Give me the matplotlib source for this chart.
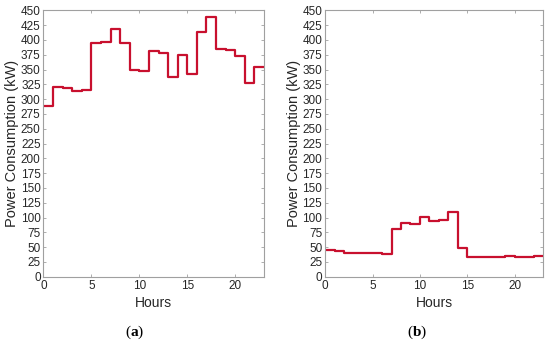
import matplotlib
matplotlib.use("Agg")
import matplotlib.pyplot as plt
import numpy as np

plt.rcParams['font.family'] = ['Liberation Sans', 'DejaVu Sans']
plt.rcParams['mathtext.fontset'] = 'custom'
plt.rcParams['mathtext.rm'] = 'Liberation Serif'
plt.rcParams['mathtext.bf'] = 'Liberation Serif:bold'

hours = list(range(24))
power_a = [288, 321, 319, 314, 316, 395, 396, 419, 395, 350, 347, 382,
           378, 338, 374, 343, 414, 438, 384, 383, 372, 328, 354, 354]
power_b = [45, 43, 41, 41, 40, 40, 39, 80, 91, 89, 101, 95,
           96, 109, 48, 33, 34, 33, 34, 35, 34, 34, 35, 35]
panel_labels = ['a', 'b']
yticks = list(range(0, 451, 25))
xticks = [0, 5, 10, 15, 20]

fig = plt.figure(figsize=(5.5, 3.43), dpi=100)
axes = [fig.add_axes([0.079, 0.193, 0.401, 0.777]),
        fig.add_axes([0.591, 0.193, 0.397, 0.777])]
label_x = [0.244, 0.758]

line_color = '#c8102e'
grey = '#a0a0a0'
text_c = '#262626'
for ax, data, lab, lx in zip(axes, [power_a, power_b], panel_labels, label_x):
    ax.step(hours, data, where='post', color=line_color, lw=1.6)
    ax.set_xlim(0, 23)
    ax.set_ylim(0, 450)
    ax.set_yticks(yticks)
    ax.set_xticks(xticks)
    ax.tick_params(axis='both', labelsize=8.5, colors=grey, labelcolor=text_c,
                   direction='in', length=2, width=0.6, pad=2, top=True, right=True)
    for s in ax.spines.values():
        s.set_color(grey)
        s.set_linewidth(0.8)
    ax.set_ylabel('Power Consumption (kW)', fontsize=10.5, color=text_c, labelpad=1)
    ax.set_xlabel('Hours', fontsize=10, color=text_c, labelpad=3)
    fig.text(lx, 1 - 332 / 343, r'($\mathbf{' + lab + r'}$)', ha='center', va='center',
             fontsize=11, family='Liberation Serif', color='black')

fig.savefig('out.png', dpi=100)
